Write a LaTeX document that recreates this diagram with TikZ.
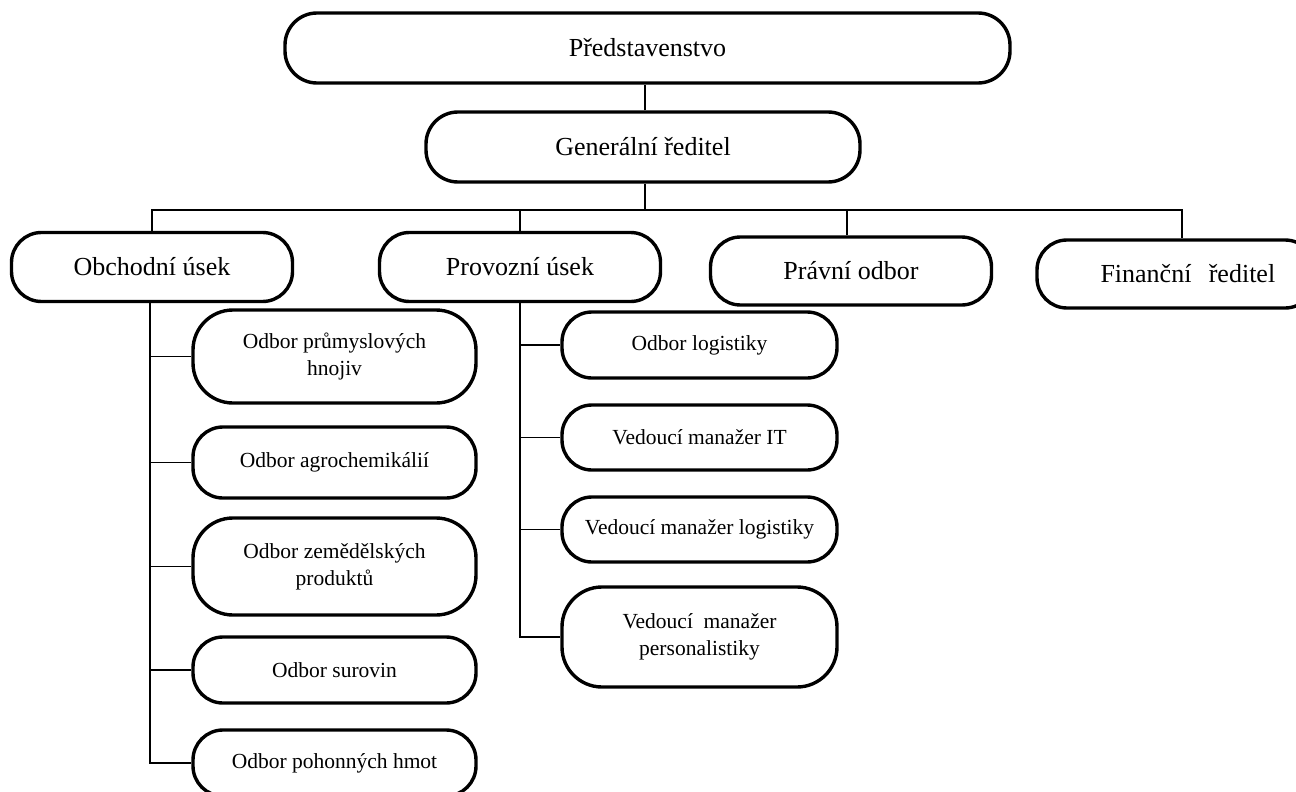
\documentclass[tikz,border=0pt]{standalone}
\usepackage{fontspec}
\setmainfont{Liberation Serif}
\begin{document}
\begin{tikzpicture}[x=1pt,y=-1pt,
  box/.style={draw, line width=3.4pt, rounded corners=30pt, align=center, inner sep=0pt, font=\fontsize{21.5}{27}\selectfont},
  tallbox/.style={box, rounded corners=40pt},
  bigbox/.style={box, font=\fontsize{26}{30}\selectfont},
  conn/.style={line width=1.4pt}]
\useasboundingbox (0,0) rectangle (1296,792);
\clip (0,0) rectangle (1296,792);
\fill[white] (0,0) rectangle (1296,792);
% top levels
\node[bigbox, minimum width=725pt, minimum height=70pt, rounded corners=32pt] (pred) at (647.5,48) {Představenstvo};
\node[bigbox, minimum width=434pt, minimum height=70pt, rounded corners=32pt] (gr) at (643,147) {Generální ředitel};
\node[bigbox, minimum width=281pt, minimum height=69pt] (obch) at (152,267) {Obchodní úsek};
\node[bigbox, minimum width=281pt, minimum height=69pt] (prov) at (520,267) {Provozní úsek};
\node[bigbox, minimum width=281pt, minimum height=68pt] (prav) at (851,271) {Právní odbor};
\node[bigbox, minimum width=278pt, minimum height=68pt, text width=255pt, align=left] (fin) at (1176,274) {\hspace{52pt}Finanční\ \ ředitel};
% left sub boxes
\node[tallbox, minimum width=283pt, minimum height=93pt] (s1) at (334.5,356.5) {Odbor průmyslových\\hnojiv};
\node[box, minimum width=283pt, minimum height=71pt] (s2) at (334.5,462.5) {Odbor agrochemikálií};
\node[tallbox, minimum width=283pt, minimum height=97pt] (s3) at (334.5,566.5) {Odbor zemědělských\\produktů};
\node[box, minimum width=283pt, minimum height=66pt] (s4) at (334.5,670) {Odbor surovin};
\node[box, minimum width=283pt, minimum height=66pt] (s5) at (334.5,763) {Odbor pohonných hmot};
% right sub boxes
\node[box, minimum width=275pt, minimum height=66pt] (r1) at (699.5,345) {Odbor logistiky};
\node[box, minimum width=275pt, minimum height=65pt] (r2) at (699.5,437.5) {Vedoucí manažer IT};
\node[box, minimum width=275pt, minimum height=65pt] (r3) at (699.5,529.5) {Vedoucí manažer logistiky};
\node[tallbox, minimum width=275pt, minimum height=100pt] (r4) at (699.5,637) {Vedoucí\ \ manažer\\personalistiky};
% connectors
\coordinate (bus) at (645,210);
\coordinate (busR) at (1182,210);
\draw[conn] (gr.north -| bus) -- (pred.south -| bus);
\draw[conn] (gr.south -| bus) -- (bus);
\draw[conn] (obch.north) -- (obch.north |- bus) -- (busR) -- (busR |- fin.north);
\draw[conn] (prov.north) -- (prov.north |- bus);
\draw[conn] ([xshift=-4pt]prav.north) -- ([xshift=-4pt]prav.north |- bus);
\coordinate (lt) at ([xshift=-2pt]obch.south);
\draw[conn] (lt) -- (lt |- s5.west) -- (s5.west);
\foreach \n in {s1,s2,s3,s4} \draw[conn] (lt |- \n.west) -- (\n.west);
\coordinate (rt) at (prov.south);
\draw[conn] (rt) -- (rt |- r4.west) -- (r4.west);
\foreach \n in {r1,r2,r3} \draw[conn] (rt |- \n.west) -- (\n.west);
\end{tikzpicture}
\end{document}
